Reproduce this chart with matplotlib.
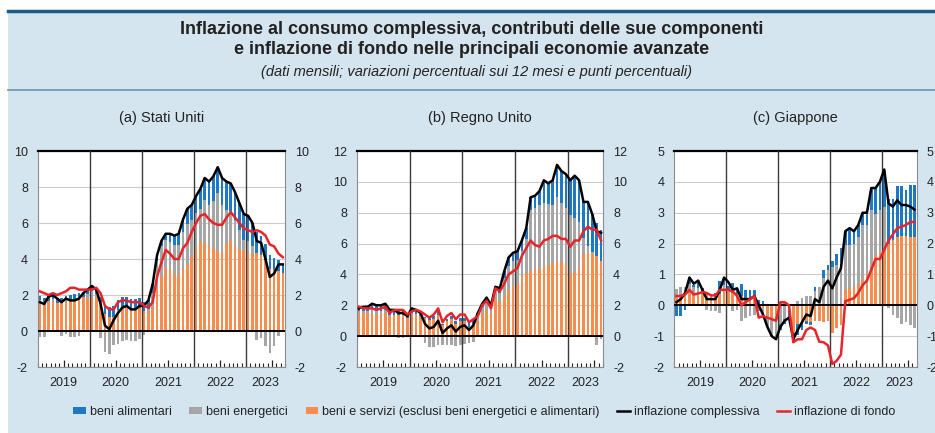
import numpy as np
import matplotlib
matplotlib.use("Agg")
import matplotlib.pyplot as plt
from matplotlib.patches import Rectangle
from matplotlib.lines import Line2D

plt.rcParams["font.family"] = ["Liberation Sans", "DejaVu Sans"]
plt.rcParams["axes.unicode_minus"] = False

# =========================
# Data (monthly, Jan 2019 onwards)
# =========================
years = ["2019", "2020", "2021", "2022", "2023"]

# (a) Stati Uniti: Jan 2019 - Sep 2023
us_other = [1.73, 1.59, 1.65, 1.64, 1.57, 1.59, 1.71, 1.78, 1.80, 1.82, 1.87, 1.82,
            1.81, 1.85, 1.62, 0.97, 0.80, 0.78, 1.14, 1.32, 1.36, 1.23, 1.27, 1.30,
            1.10, 1.06, 1.32, 2.37, 3.00, 3.52, 3.38, 3.14, 3.12, 3.48, 3.67, 4.09,
            4.63, 4.95, 4.88, 4.70, 4.60, 4.45, 4.38, 4.81, 5.04, 4.73, 4.57, 4.45,
            4.32, 4.30, 4.34, 4.25, 3.93, 3.42, 3.38, 3.36, 3.23]
us_energy = [-0.35, -0.36, -0.03, 0.12, -0.04, -0.25, -0.15, -0.31, -0.34, -0.30, -0.04, 0.24,
             0.44, 0.20, -0.40, -1.15, -1.25, -0.80, -0.70, -0.58, -0.50, -0.57, -0.58, -0.44,
             -0.22, 0.14, 0.80, 1.50, 1.70, 1.55, 1.55, 1.65, 1.65, 2.00, 2.30, 2.05,
             1.90, 1.85, 2.40, 2.30, 2.60, 3.20, 2.60, 1.90, 1.60, 1.45, 1.05, 0.60,
             0.70, 0.40, -0.50, -0.40, -0.85, -1.20, -0.85, -0.25, -0.04]
us_food = [0.22, 0.27, 0.28, 0.24, 0.27, 0.26, 0.24, 0.23, 0.24, 0.28, 0.27, 0.24,
           0.25, 0.25, 0.28, 0.48, 0.55, 0.62, 0.56, 0.56, 0.54, 0.54, 0.51, 0.54,
           0.52, 0.50, 0.48, 0.33, 0.30, 0.33, 0.47, 0.51, 0.63, 0.72, 0.83, 0.86,
           0.97, 1.10, 1.22, 1.30, 1.40, 1.45, 1.52, 1.59, 1.56, 1.52, 1.48, 1.45,
           1.38, 1.30, 1.16, 1.05, 0.92, 0.78, 0.67, 0.59, 0.51]
us_headline = [1.6, 1.5, 1.9, 2.0, 1.8, 1.6, 1.8, 1.7, 1.7, 1.8, 2.1, 2.3,
               2.5, 2.3, 1.5, 0.3, 0.1, 0.6, 1.0, 1.3, 1.4, 1.2, 1.2, 1.4,
               1.4, 1.7, 2.6, 4.2, 5.0, 5.4, 5.4, 5.3, 5.4, 6.2, 6.8, 7.0,
               7.5, 7.9, 8.5, 8.3, 8.6, 9.1, 8.5, 8.3, 8.2, 7.7, 7.1, 6.5,
               6.4, 6.0, 5.0, 4.9, 4.0, 3.0, 3.2, 3.7, 3.7]
us_core = [2.2, 2.1, 2.0, 2.1, 2.0, 2.1, 2.2, 2.4, 2.4, 2.3, 2.3, 2.3,
           2.3, 2.4, 2.1, 1.4, 1.2, 1.2, 1.6, 1.7, 1.7, 1.6, 1.6, 1.6,
           1.4, 1.3, 1.6, 3.0, 3.8, 4.5, 4.3, 4.0, 4.0, 4.6, 4.9, 5.5,
           6.0, 6.4, 6.5, 6.2, 6.0, 5.9, 5.9, 6.3, 6.6, 6.3, 6.0, 5.7,
           5.6, 5.5, 5.6, 5.5, 5.3, 4.8, 4.7, 4.3, 4.1]

# (b) Regno Unito: Jan 2019 - Aug 2023
uk_other = [1.5, 1.5, 1.5, 1.45, 1.4, 1.45, 1.5, 1.3, 1.4, 1.4, 1.4, 1.2,
            1.35, 1.4, 1.3, 1.2, 1.05, 1.1, 1.35, 0.7, 1.0, 1.1, 0.8, 1.0,
            0.95, 0.6, 0.8, 1.0, 1.45, 1.7, 1.5, 2.4, 2.2, 2.6, 3.0, 3.25,
            3.35, 3.9, 4.1, 4.2, 4.3, 4.4, 4.5, 4.6, 4.75, 4.85, 4.8, 4.7,
            4.0, 4.15, 4.4, 5.3, 5.45, 5.3, 5.2, 4.85]
uk_energy = [0.15, 0.15, 0.15, 0.35, 0.3, 0.2, 0.2, 0.1, 0.0, -0.1, -0.1, -0.05,
             0.15, 0.05, -0.05, -0.45, -0.7, -0.7, -0.6, -0.6, -0.6, -0.6, -0.65, -0.6,
             -0.5, -0.45, -0.35, 0.35, 0.45, 0.55, 0.45, 0.6, 0.6, 1.2, 1.55, 1.6,
             1.6, 1.6, 2.2, 4.0, 4.0, 4.1, 4.1, 3.95, 3.75, 4.15, 3.85, 3.6,
             3.85, 3.5, 3.0, 1.05, 0.4, 0.15, -0.55, -0.2]
uk_food = [0.2, 0.25, 0.25, 0.3, 0.3, 0.35, 0.4, 0.3, 0.3, 0.2, 0.2, 0.15,
           0.3, 0.25, 0.25, 0.05, 0.15, 0.2, 0.25, 0.1, 0.1, 0.2, 0.15, 0.2,
           0.25, 0.25, 0.25, 0.15, 0.2, 0.25, 0.05, 0.2, 0.3, 0.4, 0.55, 0.55,
           0.55, 0.7, 0.7, 0.8, 0.8, 0.9, 1.45, 1.35, 1.6, 2.1, 2.05, 2.2,
           2.25, 2.75, 2.7, 2.35, 2.85, 2.45, 2.15, 2.05]
uk_headline = [1.8, 1.9, 1.9, 2.1, 2.0, 2.0, 2.1, 1.7, 1.7, 1.5, 1.5, 1.3,
               1.8, 1.7, 1.5, 0.8, 0.5, 0.6, 1.0, 0.2, 0.5, 0.7, 0.3, 0.6,
               0.7, 0.4, 0.7, 1.5, 2.1, 2.5, 2.0, 3.2, 3.1, 4.2, 5.1, 5.4,
               5.5, 6.2, 7.0, 9.0, 9.1, 9.4, 10.1, 9.9, 10.1, 11.1, 10.7, 10.5,
               10.1, 10.4, 10.1, 8.7, 8.7, 7.9, 6.8, 6.7]
uk_core = [1.9, 1.8, 1.8, 1.8, 1.7, 1.8, 1.9, 1.5, 1.7, 1.7, 1.7, 1.4,
           1.6, 1.7, 1.6, 1.4, 1.2, 1.4, 1.8, 0.9, 1.3, 1.5, 1.1, 1.4,
           1.4, 0.9, 1.1, 1.3, 2.0, 2.3, 1.8, 3.1, 2.9, 3.4, 4.0, 4.2,
           4.4, 5.2, 5.7, 6.2, 5.9, 5.8, 6.2, 6.3, 6.5, 6.5, 6.3, 6.3,
           5.8, 6.2, 6.2, 6.8, 7.1, 6.9, 6.9, 6.2]

# (c) Giappone: Jan 2019 - Aug 2023
jp_other = [0.30, 0.30, 0.35, 0.40, 0.35, 0.35, 0.35, 0.35, 0.30, 0.30, 0.35, 0.45,
            0.45, 0.40, 0.35, 0.30, 0.25, 0.25, 0.25, 0.05, -0.10, -0.30, -0.45, -0.50,
            0.10, 0.10, 0.05, -0.90, -0.60, -0.55, -0.50, -0.55, -0.50, -0.50, -0.55, -0.50,
            -0.90, -0.75, -0.65, 0.50, 0.55, 0.60, 0.70, 0.85, 1.00, 1.25, 1.60, 1.70,
            1.85, 2.00, 2.10, 2.20, 2.25, 2.25, 2.20, 2.20]
jp_energy = [0.22, 0.28, 0.25, 0.30, 0.25, 0.20, 0.05, -0.15, -0.20, -0.20, -0.25, 0.20,
             0.05, -0.20, -0.15, -0.50, -0.40, -0.35, -0.30, -0.20, -0.30, -0.40, -0.50, -0.55,
             -0.60, -0.45, -0.20, 0.05, 0.15, 0.25, 0.30, 0.30, 0.45, 0.60, 0.90, 1.15,
             1.25, 1.30, 1.45, 1.45, 1.40, 1.40, 1.50, 1.75, 1.60, 1.85, 1.35, 1.40,
             1.35, -0.10, -0.30, -0.40, -0.60, -0.55, -0.65, -0.75]
jp_food = [-0.35, -0.35, -0.15, 0.10, 0.05, 0.20, 0.15, 0.05, 0.05, 0.10, 0.43, 0.20,
           0.12, 0.32, 0.22, 0.40, 0.25, 0.25, 0.25, 0.13, 0.13, 0.00, -0.05, -0.05,
           -0.20, -0.15, -0.25, -0.25, -0.35, -0.25, -0.10, -0.10, 0.15, 0.00, 0.25, 0.15,
           0.20, 0.35, 0.40, 0.45, 0.55, 0.40, 0.40, 0.40, 0.40, 0.70, 0.85, 0.90,
           1.15, 1.45, 1.35, 1.65, 1.60, 1.50, 1.70, 1.70]
jp_headline = [0.1, 0.2, 0.4, 0.9, 0.7, 0.8, 0.5, 0.2, 0.2, 0.2, 0.5, 0.9,
               0.75, 0.5, 0.55, 0.2, 0.2, 0.2, 0.3, 0.0, -0.3, -0.7, -1.0, -1.1,
               -0.7, -0.5, -0.4, -1.1, -0.8, -0.55, -0.3, -0.35, 0.2, 0.1, 0.6, 0.8,
               0.55, 0.9, 1.2, 2.4, 2.5, 2.4, 2.6, 3.0, 3.0, 3.8, 3.8, 4.0,
               4.4, 3.3, 3.2, 3.4, 3.25, 3.25, 3.2, 3.1]
jp_core = [0.30, 0.30, 0.35, 0.50, 0.35, 0.38, 0.43, 0.40, 0.32, 0.32, 0.50, 0.50,
           0.50, 0.45, 0.30, 0.00, 0.10, 0.20, 0.30, -0.40, -0.35, -0.40, -0.45, -0.50,
           0.10, 0.10, 0.00, -1.20, -1.10, -1.10, -0.80, -0.72, -0.80, -1.18, -1.20, -1.30,
           -1.90, -1.80, -1.60, 0.13, 0.18, 0.23, 0.40, 0.65, 0.80, 1.15, 1.50, 1.50,
           1.80, 2.10, 2.30, 2.50, 2.55, 2.60, 2.70, 2.70]

# =========================
# Style
# =========================
C_FOOD = "#1f78c6"
C_ENERGY = "#a6a6a6"
C_OTHER = "#f68d4e"
C_RED = "#e8242b"
BG = "#d5e5f0"

W, H = 935, 433
fig = plt.figure(figsize=(W / 100, H / 100), dpi=100)
fig.patch.set_facecolor("white")

# light blue panel, top rule and separator
fig.patches.append(Rectangle((8 / W, 0), 1 - 8 / W, 1 - 11 / H, transform=fig.transFigure,
                             facecolor=BG, edgecolor="none", zorder=-10))
fig.lines.append(Line2D([8 / W, 1], [1 - 11 / H] * 2, transform=fig.transFigure,
                        color="#1b5d87", lw=2.5, zorder=-5))
fig.lines.append(Line2D([8 / W, 1], [1 - 89.5 / H] * 2, transform=fig.transFigure,
                        color="#6a93ad", lw=1.2, zorder=-5))

fig.text(0.504, 1 - 29 / H, "Inflazione al consumo complessiva, contributi delle sue componenti",
         ha="center", va="center", fontsize=13, fontweight="bold", color="#222222")
fig.text(0.504, 1 - 50 / H, "e inflazione di fondo nelle principali economie avanzate",
         ha="center", va="center", fontsize=13, fontweight="bold", color="#222222")
fig.text(0.51, 1 - 72 / H, "(dati mensili; variazioni percentuali sui 12 mesi e punti percentuali)",
         ha="center", va="center", fontsize=10.5, style="italic", color="#222222")


def draw_panel(rect, title, other, energy, food, headline, core, ylim, ystep):
    ax = fig.add_axes(rect)
    ax.set_facecolor("white")
    n = len(headline)
    x = np.arange(n)

    # stacked contributions, positives up and negatives down
    pos = np.zeros(n)
    neg = np.zeros(n)
    for vals, col in [(other, C_OTHER), (energy, C_ENERGY), (food, C_FOOD)]:
        v = np.asarray(vals, dtype=float)
        base = np.where(v >= 0, pos, neg)
        ax.bar(x, v, bottom=base, width=0.6, color=col, linewidth=0, zorder=2)
        pos += np.clip(v, 0, None)
        neg += np.clip(v, None, 0)

    for b in [11.5, 23.5, 35.5, 47.5]:
        ax.axvline(b, color="#3a3a3a", lw=1.0, zorder=3)
    ax.axhline(0, color="black", lw=1.4, zorder=3)

    ax.plot(x, headline, color="black", lw=1.8, zorder=4)
    ax.plot(x, core, color=C_RED, lw=1.8, zorder=5)

    ax.set_xlim(-0.5, n - 0.5)
    ax.set_ylim(*ylim)
    ax.set_yticks(np.arange(ylim[0], ylim[1] + 0.01, ystep))
    ax.yaxis.grid(True, color="#cccccc", lw=0.8, zorder=1)
    ax.set_axisbelow(True)
    ax.tick_params(axis="y", length=0, labelsize=9, pad=7, labelright=True,
                   labelcolor="#222222")

    # month marks along the bottom
    ax.set_xticks([5.5, 17.5, 29.5, 41.5, 53.5])
    ax.set_xticks(np.arange(-0.5, n, 1.0), minor=True)
    ax.tick_params(axis="x", which="major", direction="in", length=5, width=0.9,
                   labelbottom=False, color="#222222")
    ax.tick_params(axis="x", which="minor", direction="in", length=3, width=0.8,
                   color="#222222")
    label_pos = [5.5, 17.5, 29.5, 41.5, (47.5 + n - 0.5) / 2]
    for xp, yr in zip(label_pos, years):
        ax.text(xp, -0.045, yr, transform=ax.get_xaxis_transform(), ha="center",
                va="top", fontsize=9, color="#222222")

    for side in ["left", "right", "bottom"]:
        ax.spines[side].set_color("#8c8c8c")
        ax.spines[side].set_linewidth(0.8)
    ax.spines["top"].set_color("black")
    ax.spines["top"].set_linewidth(1.6)

    ax.text(0.5, 1 + 33 / 216, title, transform=ax.transAxes, ha="center",
            va="center", fontsize=10.5, color="#222222")
    return ax


bottom = (H - 367) / H
height = 216 / H
draw_panel([37.7 / W, bottom, 247.3 / W, height], "(a) Stati Uniti",
           us_other, us_energy, us_food, us_headline, us_core, (-2, 10), 2)
draw_panel([356.7 / W, bottom, 246.6 / W, height], "(b) Regno Unito",
           uk_other, uk_energy, uk_food, uk_headline, uk_core, (-2, 12), 2)
draw_panel([674.3 / W, bottom, 242.4 / W, height], "(c) Giappone",
           jp_other, jp_energy, jp_food, jp_headline, jp_core, (-2, 5), 1)

handles = [
    Rectangle((0, 0), 1, 1, facecolor=C_FOOD, edgecolor="none"),
    Rectangle((0, 0), 1, 1, facecolor=C_ENERGY, edgecolor="none"),
    Rectangle((0, 0), 1, 1, facecolor=C_OTHER, edgecolor="none"),
    Line2D([], [], color="black", lw=1.8),
    Line2D([], [], color=C_RED, lw=1.8),
]
labels = ["beni alimentari", "beni energetici",
          "beni e servizi (esclusi beni energetici e alimentari)",
          "inflazione complessiva", "inflazione di fondo"]
fig.legend(handles, labels, loc="center", bbox_to_anchor=(0.518, 1 - 412 / H), ncol=5,
           frameon=False, fontsize=9, handlelength=1.0, handleheight=0.4,
           handletextpad=0.35, columnspacing=1.4, labelcolor="#222222")

fig.savefig("out.png", dpi=100)
